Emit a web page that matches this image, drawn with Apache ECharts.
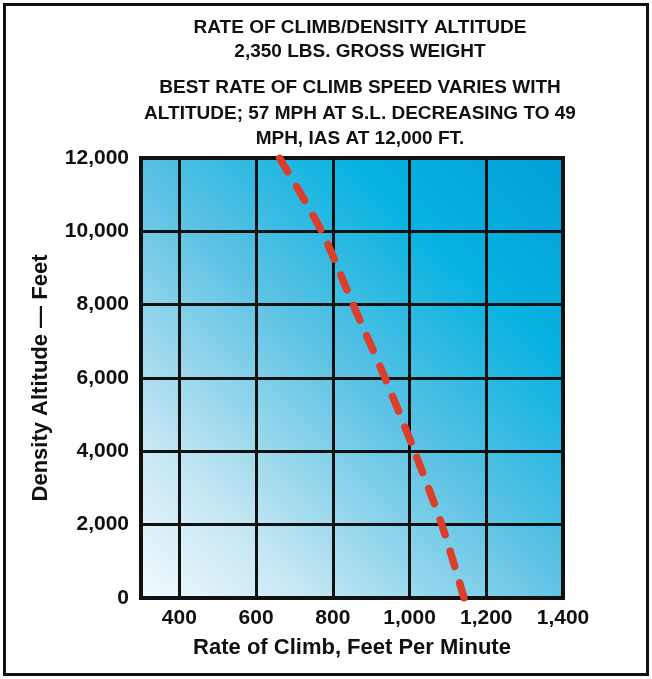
<!DOCTYPE html>
<html>
<head>
<meta charset="utf-8">
<script src="https://cdn.jsdelivr.net/npm/echarts@6/dist/echarts.min.js"></script>
<style>
  html, body { margin: 0; padding: 0; background: #fff; }
  #main { width: 652px; height: 679px; }
</style>
</head>
<body>
<div id="main"></div>
<script>
// density altitude (ft) and best rate of climb (ft/min)
var altitudes = [0, 2000, 4000, 6000, 8000, 10000, 12000];
var rateOfClimb = [1142, 1084, 1013, 936, 853, 771, 661];

var titleLines = ['RATE OF CLIMB/DENSITY ALTITUDE', '2,350 LBS. GROSS WEIGHT'];
var noteLines = ['BEST RATE OF CLIMB SPEED VARIES WITH', 'ALTITUDE; 57 MPH AT S.L. DECREASING TO 49', 'MPH, IAS AT 12,000 FT.'];

var xName = 'Rate of Climb, Feet Per Minute';
var yName = 'Density Altitude \u2014 Feet';

var FONT = '"Liberation Sans", Arial, sans-serif';
var INK = '#111';

function commas(v) {
    return String(v).replace(/\B(?=(\d{3})+(?!\d))/g, ',');
}

var myChart = echarts.init(document.getElementById('main'));

var curve = [];
for (var i = 0; i < altitudes.length; i++) {
    curve.push([rateOfClimb[i], altitudes[i]]);
}

var option = {
    animation: false,
    backgroundColor: '#fff',
    textStyle: { fontFamily: FONT },
    title: [
        {
            text: titleLines.join('\n'),
            left: 360, top: 15.5, padding: 0,
            textAlign: 'center',
            textStyle: { fontFamily: FONT, fontSize: 19, fontWeight: 'bold', color: INK, lineHeight: 24 }
        },
        {
            text: noteLines.join('\n'),
            left: 360, top: 75.5, padding: 0,
            textAlign: 'center',
            textStyle: { fontFamily: FONT, fontSize: 19, fontWeight: 'bold', color: INK, lineHeight: 25.3 }
        }
    ],
    graphic: [
        {
            type: 'rect',
            shape: { x: 4.5, y: 4.5, width: 643, height: 670 },
            style: { fill: 'none', stroke: INK, lineWidth: 3 },
            silent: true
        }
    ],
    grid: {
        left: 141, right: 89, top: 158, bottom: 81,
        show: true,
        borderColor: INK,
        borderWidth: 4,
        backgroundColor: new echarts.graphic.LinearGradient(0, 1, 1, 0, [
            { offset: 0, color: '#f4fafd' },
            { offset: 0.2, color: '#c4e7f3' },
            { offset: 0.5, color: '#5cc2e4' },
            { offset: 0.75, color: '#08b3e1' },
            { offset: 1, color: '#009ed8' }
        ])
    },
    xAxis: {
        type: 'value',
        min: 300, max: 1400, interval: 100,
        name: xName,
        nameLocation: 'middle',
        nameGap: 39,
        nameTextStyle: { fontFamily: FONT, fontSize: 22, fontWeight: 'bold', color: INK },
        axisLine: { show: false },
        axisTick: { show: false },
        axisLabel: {
            margin: 10,
            fontFamily: FONT, fontSize: 21, fontWeight: 'bold', color: INK,
            formatter: function (v) { return v % 200 === 0 ? commas(v) : ''; }
        },
        // grid lines only on the labelled hundreds
        splitLine: { show: true, lineStyle: { color: ['transparent', INK], width: 3 } }
    },
    yAxis: {
        type: 'value',
        min: 0, max: 12000, interval: 2000,
        name: yName,
        nameLocation: 'middle',
        nameGap: 89,
        nameTextStyle: { fontFamily: FONT, fontSize: 22, fontWeight: 'bold', color: INK },
        axisLine: { show: false },
        axisTick: { show: false },
        axisLabel: {
            margin: 12,
            fontFamily: FONT, fontSize: 21, fontWeight: 'bold', color: INK,
            formatter: function (v) { return commas(v); }
        },
        splitLine: { show: true, lineStyle: { color: INK, width: 3 } }
    },
    series: [
        {
            type: 'line',
            data: curve,
            smooth: 0.3,
            symbol: 'none',
            silent: true,
            lineStyle: {
                color: '#db3f2b',
                width: 7.5,
                type: [16, 17],
                cap: 'round'
            }
        }
    ]
};

myChart.setOption(option);
</script>
</body>
</html>
